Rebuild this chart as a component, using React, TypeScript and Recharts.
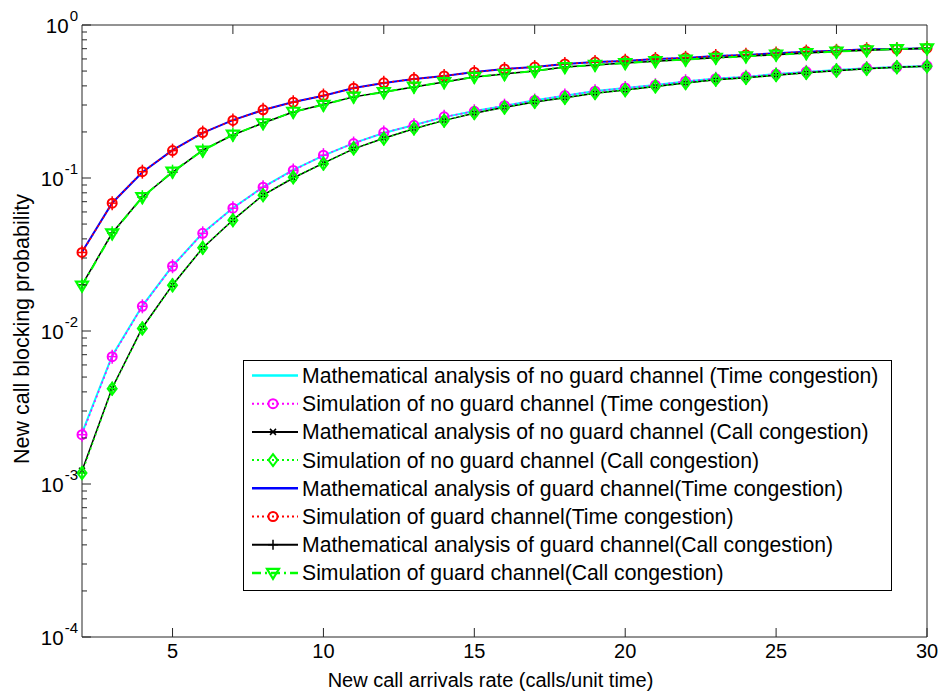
import React from 'react';
import { LineChart, Line, XAxis, YAxis } from 'recharts';

// new call arrival rate (calls/unit time)
const lambda = [2, 3, 4, 5, 6, 7, 8, 9, 10, 11, 12, 13, 14, 15, 16, 17, 18, 19, 20, 21, 22, 23, 24, 25, 26, 27, 28, 29, 30];

// no guard channel
const noGuardTimeMath = [0.00215, 0.0069, 0.0146, 0.0266, 0.0437, 0.0637, 0.0873, 0.113, 0.140, 0.169, 0.197, 0.222, 0.250, 0.274, 0.296, 0.322, 0.345, 0.370, 0.387, 0.405, 0.428, 0.447, 0.458, 0.478, 0.493, 0.508, 0.522, 0.532, 0.540];
const noGuardTimeSim = [0.0021, 0.0068, 0.0145, 0.0265, 0.0435, 0.0635, 0.0870, 0.112, 0.141, 0.168, 0.198, 0.221, 0.251, 0.273, 0.297, 0.321, 0.346, 0.369, 0.388, 0.404, 0.429, 0.446, 0.459, 0.477, 0.494, 0.507, 0.523, 0.531, 0.541];
const noGuardCallMath = [0.00122, 0.00424, 0.0105, 0.0200, 0.0349, 0.0531, 0.0774, 0.100, 0.125, 0.155, 0.182, 0.210, 0.238, 0.265, 0.290, 0.314, 0.335, 0.358, 0.376, 0.396, 0.418, 0.438, 0.452, 0.470, 0.487, 0.503, 0.518, 0.529, 0.538];
const noGuardCallSim = [0.00118, 0.00420, 0.0104, 0.0199, 0.0350, 0.0530, 0.0772, 0.101, 0.124, 0.156, 0.181, 0.211, 0.237, 0.266, 0.289, 0.315, 0.334, 0.359, 0.375, 0.397, 0.417, 0.439, 0.451, 0.471, 0.486, 0.504, 0.517, 0.530, 0.537];

// guard channel
const guardTimeMath = [0.0328, 0.0687, 0.109, 0.152, 0.197, 0.239, 0.278, 0.314, 0.345, 0.387, 0.418, 0.444, 0.464, 0.493, 0.515, 0.532, 0.556, 0.573, 0.582, 0.600, 0.609, 0.627, 0.637, 0.653, 0.669, 0.679, 0.694, 0.697, 0.704];
const guardTimeSim = [0.0326, 0.0685, 0.110, 0.151, 0.198, 0.238, 0.279, 0.313, 0.346, 0.386, 0.419, 0.443, 0.465, 0.492, 0.516, 0.531, 0.557, 0.572, 0.583, 0.599, 0.610, 0.626, 0.638, 0.652, 0.670, 0.678, 0.695, 0.696, 0.705];
const guardCallMath = [0.0200, 0.0437, 0.0751, 0.109, 0.152, 0.191, 0.229, 0.270, 0.302, 0.339, 0.365, 0.394, 0.424, 0.457, 0.479, 0.500, 0.532, 0.548, 0.565, 0.580, 0.595, 0.610, 0.625, 0.640, 0.655, 0.670, 0.685, 0.695, 0.705];
const guardCallSim = [0.0198, 0.0435, 0.0749, 0.110, 0.151, 0.192, 0.228, 0.271, 0.301, 0.340, 0.364, 0.395, 0.423, 0.458, 0.478, 0.501, 0.531, 0.549, 0.564, 0.581, 0.594, 0.611, 0.624, 0.641, 0.654, 0.671, 0.684, 0.696, 0.704];

const xTicks = [5, 10, 15, 20, 25, 30];
const yDecades = [1e-4, 1e-3, 1e-2, 1e-1, 1];
const yMantissa = [1, 2, 3, 4, 5, 6, 7, 8, 9];
const yTicks = yDecades.flatMap((d) => (d >= 1 ? [d] : yMantissa.map((m) => m * d)));

const FONT = 'Liberation Sans, Arial, sans-serif';
const AXIS = '#262626';

type MarkerType = 'none' | 'circle' | 'x' | 'diamond' | 'plus' | 'triangle';

const series: {
  key: string; name: string; values: number[]; color: string;
  width: number; dash?: string; marker: MarkerType; sim: boolean;
}[] = [
  { key: 'ngTM', name: 'Mathematical analysis of no guard channel (Time congestion)', values: noGuardTimeMath, color: '#00FFFF', width: 2, marker: 'none', sim: false },
  { key: 'ngTS', name: 'Simulation of no guard channel (Time congestion)', values: noGuardTimeSim, color: '#FF00FF', width: 1.5, dash: '2 3', marker: 'circle', sim: true },
  { key: 'ngCM', name: 'Mathematical analysis of no guard channel (Call congestion)', values: noGuardCallMath, color: '#000000', width: 1.5, marker: 'x', sim: false },
  { key: 'ngCS', name: 'Simulation of no guard channel (Call congestion)', values: noGuardCallSim, color: '#00FF00', width: 1.5, dash: '2 3', marker: 'diamond', sim: true },
  { key: 'gTM', name: 'Mathematical analysis of guard channel(Time congestion)', values: guardTimeMath, color: '#0000FF', width: 2, marker: 'none', sim: false },
  { key: 'gTS', name: 'Simulation of guard channel(Time congestion)', values: guardTimeSim, color: '#FF0000', width: 1.5, dash: '2 3', marker: 'circle', sim: true },
  { key: 'gCM', name: 'Mathematical analysis of guard channel(Call congestion)', values: guardCallMath, color: '#000000', width: 1.5, marker: 'plus', sim: false },
  { key: 'gCS', name: 'Simulation of guard channel(Call congestion)', values: guardCallSim, color: '#00FF00', width: 2, dash: '9 4 2 4', marker: 'triangle', sim: true },
];

const data = lambda.map((x, i) => {
  const row: Record<string, number> = { x };
  series.forEach((s) => { row[s.key] = s.values[i]; });
  return row;
});

function Marker({ type, cx, cy, color, bar }: { type: MarkerType; cx: number; cy: number; color: string; bar?: boolean }) {
  if (cx == null || cy == null || type === 'none') return null;
  const err = bar ? (
    <g stroke={color} strokeWidth={1.5}>
      <line x1={cx} y1={cy - 7} x2={cx} y2={cy + 7} />
      <line x1={cx - 4} y1={cy} x2={cx + 4} y2={cy} />
    </g>
  ) : null;
  let shape: React.ReactNode = null;
  if (type === 'circle') {
    shape = <circle cx={cx} cy={cy} r={4.5} fill="none" stroke={color} strokeWidth={2} />;
  } else if (type === 'diamond') {
    shape = <polygon points={`${cx},${cy - 6} ${cx + 4.5},${cy} ${cx},${cy + 6} ${cx - 4.5},${cy}`} fill="none" stroke={color} strokeWidth={2} />;
  } else if (type === 'triangle') {
    shape = <polygon points={`${cx - 6},${cy - 4} ${cx + 6},${cy - 4} ${cx},${cy + 6}`} fill="none" stroke={color} strokeWidth={2.2} />;
  } else if (type === 'x') {
    shape = (
      <g stroke={color} strokeWidth={1.5}>
        <line x1={cx - 3} y1={cy - 3} x2={cx + 3} y2={cy + 3} />
        <line x1={cx - 3} y1={cy + 3} x2={cx + 3} y2={cy - 3} />
      </g>
    );
  } else if (type === 'plus') {
    shape = (
      <g stroke={color} strokeWidth={1.5}>
        <line x1={cx} y1={cy - 5} x2={cx} y2={cy + 5} />
        <line x1={cx - 5} y1={cy} x2={cx + 5} y2={cy} />
      </g>
    );
  }
  return <g>{err}{shape}</g>;
}

function isMajor(v: number) {
  const l = Math.log10(v);
  return Math.abs(l - Math.round(l)) < 1e-6;
}

function LeftTick(props: any) {
  const { x, y, payload } = props;
  const major = isMajor(payload.value);
  const exp = Math.round(Math.log10(payload.value));
  return (
    <g>
      <line x1={x} y1={y} x2={x + (major ? 9 : 5)} y2={y} stroke={AXIS} strokeWidth={1} />
      {major && (
        <text x={x - 4} y={y + 8} textAnchor="end" fontFamily={FONT} fontSize={20.5} fill="#000">
          <tspan>10</tspan>
          <tspan dx={1} dy={-12} fontSize={15}>{exp}</tspan>
        </text>
      )}
    </g>
  );
}

function RightTick(props: any) {
  const { x, y, payload } = props;
  const major = isMajor(payload.value);
  return <line x1={x} y1={y} x2={x - (major ? 9 : 5)} y2={y} stroke={AXIS} strokeWidth={1} />;
}

function BottomTick(props: any) {
  const { x, y, payload } = props;
  return (
    <g>
      <line x1={x} y1={y} x2={x} y2={y - 9} stroke={AXIS} strokeWidth={1} />
      <text x={x} y={y + 21} textAnchor="middle" fontFamily={FONT} fontSize={20} fill="#000">{payload.value}</text>
    </g>
  );
}

function TopTick(props: any) {
  const { x, y } = props;
  return <line x1={x} y1={y} x2={x} y2={y + 9} stroke={AXIS} strokeWidth={1} />;
}

function LegendBox() {
  const rowGap = 28.2;
  return (
    <svg width={649} height={231} style={{ position: 'absolute', left: 243, top: 360, display: 'block' }}>
      <rect x={0.5} y={0.5} width={648} height={230} fill="#fff" stroke="#000" strokeWidth={1} />
      {series.map((s, i) => {
        const cy = 15.5 + i * rowGap;
        return (
          <g key={s.key}>
            <line x1={9} y1={cy} x2={55} y2={cy} stroke={s.color} strokeWidth={s.width + 0.5} strokeDasharray={s.dash} />
            <Marker type={s.marker} cx={30} cy={cy} color={s.color} />
            <text x={59} y={cy + 7.5} fontFamily={FONT} fontSize={21.2} fill="#000">{s.name}</text>
          </g>
        );
      })}
    </svg>
  );
}

export default function App() {
  return (
    <div style={{ position: 'absolute', left: 0, top: 0, width: 940, height: 691, background: '#fff' }}>
      <LineChart width={940} height={691} data={data} margin={{ top: 24, right: 0, bottom: 0, left: 0 }}>
        <XAxis
          dataKey="x" type="number" domain={[2, 30]} ticks={xTicks} interval={0}
          height={54} tickSize={0} tickMargin={0} stroke={AXIS}
          tick={<BottomTick />}
          label={{
            content: (p: any) => (
              <text x={p.viewBox.x + p.viewBox.width / 2 - 14} y={p.viewBox.y + 50} textAnchor="middle" fontFamily={FONT} fontSize={20} fill="#000">
                New call arrivals rate (calls/unit time)
              </text>
            ),
          }}
        />
        <XAxis
          xAxisId="top" orientation="top" type="number" domain={[2, 30]} ticks={xTicks} interval={0}
          height={1} tickSize={0} tickMargin={0} stroke={AXIS} tick={<TopTick />}
        />
        <YAxis
          type="number" scale="log" domain={[1e-4, 1]} ticks={yTicks} interval={0}
          width={82} tickSize={0} tickMargin={0} stroke={AXIS}
          tick={<LeftTick />}
          label={{
            content: (p: any) => {
              const cx = p.viewBox.x + 28.5;
              const cy = p.viewBox.y + p.viewBox.height / 2 - 2;
              return (
                <text x={cx} y={cy} transform={`rotate(-90, ${cx}, ${cy})`} textAnchor="middle" fontFamily={FONT} fontSize={21.5} fill="#000">
                  New call blocking probability
                </text>
              );
            },
          }}
        />
        <YAxis
          yAxisId="right" orientation="right" type="number" scale="log" domain={[1e-4, 1]} ticks={yTicks} interval={0}
          width={13} tickSize={0} tickMargin={0} stroke={AXIS} tick={<RightTick />}
        />
        {series.map((s) => (
          <Line
            key={s.key}
            dataKey={s.key}
            name={s.name}
            type="linear"
            stroke={s.color}
            strokeWidth={s.width}
            strokeDasharray={s.dash}
            isAnimationActive={false}
            dot={s.marker === 'none' ? false : (p: any) => (
              <Marker key={`${s.key}-${p.index}`} type={s.marker} cx={p.cx} cy={p.cy} color={s.color} bar={s.sim} />
            )}
            activeDot={false}
          />
        ))}
      </LineChart>
      <LegendBox />
    </div>
  );
}
